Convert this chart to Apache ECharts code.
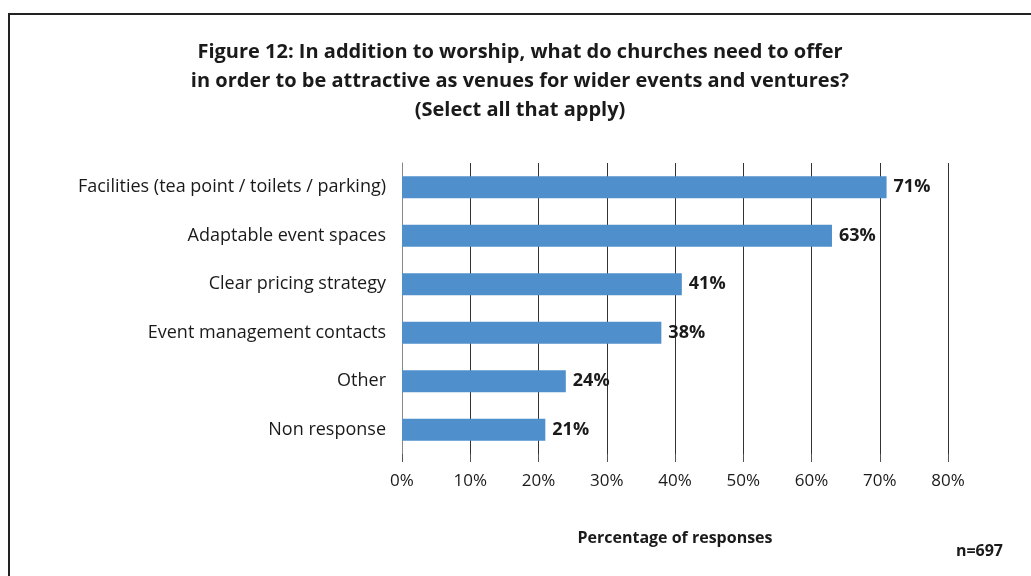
<!DOCTYPE html>
<html>
<head>
<meta charset="utf-8">
<script src="https://cdn.jsdelivr.net/npm/echarts@6/dist/echarts.min.js"></script>
<style>
    html, body { margin: 0; padding: 0; background: #fff; }
    #chart { width: 1031px; height: 576px; }
</style>
</head>
<body>
<div id="chart"></div>
<script>
    var categories = ['Facilities (tea point / toilets / parking)', 'Adaptable event spaces', 'Clear pricing strategy',
        'Event management contacts', 'Other', 'Non response'];
    var values = [71, 63, 41, 38, 24, 21];
    var xTicks = [0, 10, 20, 30, 40, 50, 60, 70, 80];

    var font = '"Open Sans", "Noto Sans", sans-serif';
    var chart = echarts.init(document.getElementById('chart'));

    var option = {
        backgroundColor: '#fff',
        animation: false,
        title: {
            text: 'Figure 12: In addition to worship, what do churches need to offer\nin order to be attractive as venues for wider events and ventures?\n(Select all that apply)',
            left: 515,
            textAlign: 'center',
            top: 33,
            textStyle: {
                fontFamily: font,
                fontWeight: 'bold',
                fontSize: 20,
                lineHeight: 29,
                color: '#1a1a1a'
            }
        },
        graphic: [{
            type: 'polyline',
            shape: { points: [[9, 576], [9, 14], [1031, 14]] },
            style: { stroke: '#222', lineWidth: 2, fill: null }
        }, {
            type: 'text',
            right: 28,
            top: 543,
            style: { text: 'n=697', font: 'bold 16px ' + font, fill: '#1a1a1a' }
        }],
        grid: {
            left: 402,
            right: 83,
            top: 163,
            bottom: 122
        },
        xAxis: {
            type: 'value',
            min: xTicks[0],
            max: xTicks[xTicks.length - 1],
            interval: 10,
            name: 'Percentage of responses',
            nameLocation: 'middle',
            nameGap: 76,
            nameTextStyle: { fontFamily: font, fontWeight: 'bold', fontSize: 16, color: '#1a1a1a' },
            axisLine: { show: false },
            axisTick: { show: true, length: 8, lineStyle: { color: '#555' } },
            axisLabel: {
                formatter: '{value}%',
                fontFamily: font,
                fontSize: 17,
                color: '#1a1a1a',
                margin: 19
            },
            splitLine: { show: true, lineStyle: { color: '#333', width: 1 } }
        },
        yAxis: {
            type: 'category',
            inverse: true,
            data: categories,
            axisLine: { show: true, lineStyle: { color: '#888', width: 1 } },
            axisTick: { show: false },
            axisLabel: {
                fontFamily: font,
                fontSize: 18,
                color: '#1a1a1a',
                margin: 16
            }
        },
        series: [{
            type: 'bar',
            data: values,
            barWidth: 22,
            itemStyle: { color: '#4f8fcc' },
            label: {
                show: true,
                position: 'right',
                distance: 7,
                formatter: '{c}%',
                fontFamily: font,
                fontWeight: 'bold',
                fontSize: 18,
                color: '#1a1a1a'
            }
        }]
    };

    chart.setOption(option);
</script>
</body>
</html>
